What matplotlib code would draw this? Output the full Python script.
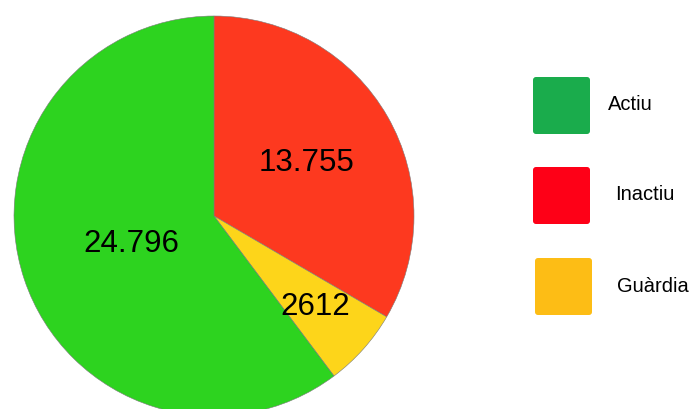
import numpy as np
import matplotlib.pyplot as plt
from matplotlib.patches import FancyBboxPatch

plt.rcParams["font.family"] = ["Liberation Sans", "DejaVu Sans"]

# dades
categories = ["Inactiu", "Guàrdia", "Actiu"]
values = [13755, 2612, 24796]
pie_colors = ["#fd391f", "#fdd51a", "#2dd31f"]
label_dist = [0.535, 0.68, 0.435]

legend_labels = ["Actiu", "Inactiu", "Guàrdia"]
legend_colors = ["#1aac4c", "#fe0017", "#fdbd15"]


def fmt(v):
    # separador de milers català només a partir de 10.000
    return f"{v:,}".replace(",", ".") if v >= 10000 else str(v)


fig = plt.figure(figsize=(6.92, 4.09), dpi=100)

# pastís
ax = fig.add_axes([14 / 692, -7 / 409, 400 / 692, 400 / 409])
wedges, texts = ax.pie(values, colors=pie_colors, startangle=90, counterclock=False,
                       radius=1, labels=[fmt(v) for v in values], labeldistance=0.5,
                       wedgeprops=dict(edgecolor="#7a7a7a", linewidth=0.4),
                       textprops=dict(fontsize=22.5, color="black"))
for w, t, d in zip(wedges, texts, label_dist):
    ang = np.deg2rad((w.theta1 + w.theta2) / 2)
    t.set_position((d * np.cos(ang), d * np.sin(ang)))
    t.set_ha("center")
    t.set_va("center")
ax.set_xlim(-1, 1)
ax.set_ylim(-1, 1)
ax.set_aspect("equal")

# llegenda
lax = fig.add_axes([0, 0, 1, 1])
lax.set_xlim(0, 692)
lax.set_ylim(409, 0)
lax.axis("off")
box_x = [533, 533, 535]
box_y = [77, 167, 258]
text_x = [608, 615, 617]
for lab, col, bx, by, tx in zip(legend_labels, legend_colors, box_x, box_y, text_x):
    lax.add_patch(FancyBboxPatch((bx + 2, by + 2), 53, 53,
                                 boxstyle="round,pad=2,rounding_size=3",
                                 facecolor=col, edgecolor="none"))
    lax.text(tx, by + 28, lab, fontsize=14.5, va="center", ha="left", color="black")

fig.savefig("out.png", dpi=100)
